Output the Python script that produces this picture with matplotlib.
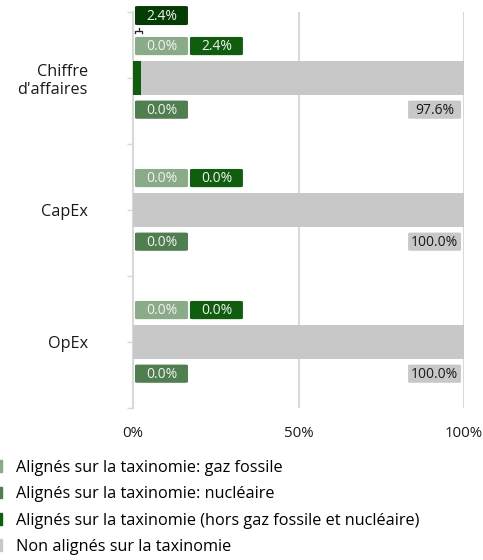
import matplotlib.pyplot as plt
from matplotlib.patches import FancyBboxPatch, Patch

plt.rcParams['font.family'] = ['Open Sans', 'DejaVu Sans']

# data
categories = ["Chiffre\nd'affaires", "CapEx", "OpEx"]
gaz_fossile = [0.0, 0.0, 0.0]
nucleaire = [0.0, 0.0, 0.0]
hors = [2.4, 0.0, 0.0]
non_alignes = [97.6, 100.0, 100.0]
legend_labels = ["Alignés sur la taxinomie: gaz fossile",
                 "Alignés sur la taxinomie: nucléaire",
                 "Alignés sur la taxinomie (hors gaz fossile et nucléaire)",
                 "Non alignés sur la taxinomie"]

c_gaz = '#8aab88'
c_nuc = '#4f7e4f'
c_hors = '#0e5e0e'
c_non = '#c8c8c8'
c_total = '#033d03'

fig = plt.figure(figsize=(4.83, 5.6), dpi=100)
ax = fig.add_axes([0.2754, 0.2714, 0.6853, 0.7072])

y = list(range(len(categories)))
h = 0.26
left = [0.0] * 3
for vals, col in [(gaz_fossile, c_gaz), (nucleaire, c_nuc), (hors, c_hors), (non_alignes, c_non)]:
    ax.barh(y, vals, left=left, height=h, color=col, zorder=3)
    left = [a + b for a, b in zip(left, vals)]

ax.set_xlim(0, 100)
ax.set_ylim(2.5, -0.5)

def box(x0, w, yc, txt, fc, tc='#f2f2f2', hh=0.138):
    p = FancyBboxPatch((x0, yc - hh / 2), w, hh,
                       boxstyle='round,pad=0,rounding_size=0.9',
                       mutation_aspect=0.0075, fc=fc, ec='none', zorder=4, clip_on=False)
    ax.add_patch(p)
    ax.text(x0 + w / 2, yc + 0.005, txt, ha='center', va='center', color=tc,
            fontsize=10, zorder=5, clip_on=False)

bw = 16.0
for i in y:
    box(0.6, bw, i - 0.242, f"{gaz_fossile[i]:.1f}%", c_gaz)
    box(17.2, bw, i - 0.242, f"{hors[i]:.1f}%", c_hors)
    box(0.6, bw, i + 0.24, f"{nucleaire[i]:.1f}%", c_nuc)
    box(83.1, bw, i + 0.24, f"{non_alignes[i]:.1f}%", c_non, tc='#1a1a1a')

# total label of the aligned part for the first category
tot = gaz_fossile[0] + nucleaire[0] + hors[0]
box(0.6, bw, -0.473, f"{tot:.1f}%", c_total, hh=0.144)
yb = -0.358
ax.plot([0.6, 0.6, 2.8, 2.8], [yb + 0.02, yb, yb, yb + 0.02], color='#222222', lw=0.9,
        zorder=5, clip_on=False)
ax.plot([1.7, 1.7], [yb, yb - 0.022], color='#222222', lw=0.9, zorder=5, clip_on=False)

ax.set_yticks(y)
ax.set_yticklabels(categories, ha='right', multialignment='right', fontsize=11.7,
                   color='#1a1a1a', linespacing=1.15)
ax.tick_params(axis='y', pad=28.5, length=4, color='#d9d9d9', width=1)
ax.set_yticks([-0.5, 0.5, 1.5, 2.5], minor=True)
ax.tick_params(axis='y', which='minor', length=4, color='#d9d9d9', width=1)

ax.set_xticks([0, 50, 100])
ax.set_xticklabels(['0%', '50%', '100%'], fontsize=10.8, color='#1a1a1a')
ax.tick_params(axis='x', length=0, pad=13)
ax.grid(axis='x', color='#d9d9d9', lw=1.5, zorder=0)

for s in ['top', 'right', 'bottom']:
    ax.spines[s].set_visible(False)
ax.spines['left'].set_color('#d9d9d9')
ax.spines['left'].set_linewidth(1.5)

handles = [Patch(color=c) for c in [c_gaz, c_nuc, c_hors, c_non]]
fig.legend(handles, legend_labels, loc='upper left', bbox_to_anchor=(-0.005, 0.179),
           frameon=False, fontsize=11.7, handlelength=0.3, handleheight=0.75,
           handletextpad=0.85, labelspacing=0.64, borderaxespad=0, borderpad=0)

fig.savefig('out.png', dpi=100)
